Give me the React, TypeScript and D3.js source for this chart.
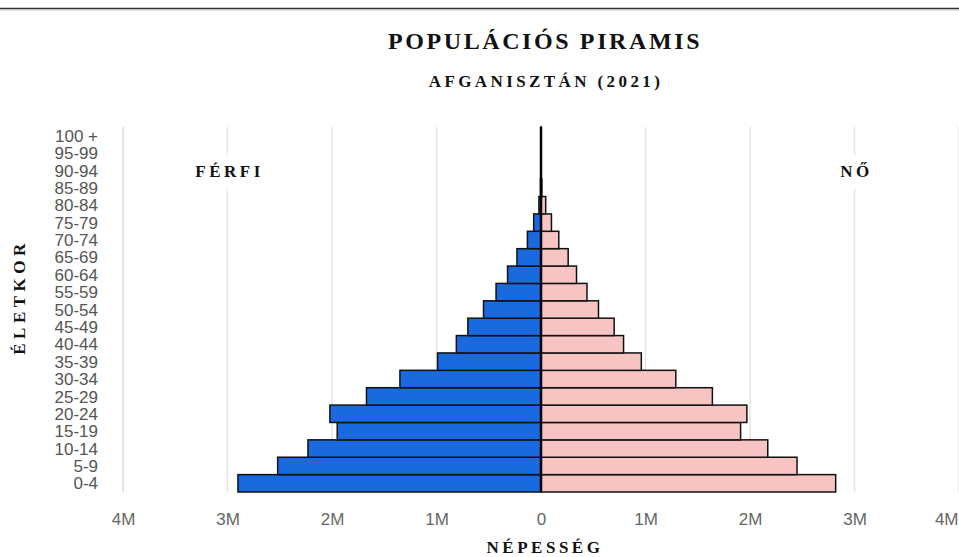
import React, { useEffect, useRef } from 'react';
import * as d3 from 'd3';

const ageGroups = [
  '0-4', '5-9', '10-14', '15-19', '20-24', '25-29', '30-34', '35-39', '40-44', '45-49',
  '50-54', '55-59', '60-64', '65-69', '70-74', '75-79', '80-84', '85-89', '90-94', '95-99', '100 +',
];

// population in people
const male = [
  2900000, 2520000, 2230000, 1950000, 2020000, 1670000, 1350000, 990000, 810000, 700000,
  550000, 430000, 320000, 230000, 130000, 70000, 20000, 5000, 1000, 200, 50,
];
const female = [
  2820000, 2450000, 2170000, 1910000, 1970000, 1640000, 1290000, 960000, 790000, 700000,
  550000, 440000, 340000, 260000, 170000, 100000, 45000, 8000, 1500, 300, 60,
];

const xTicks = [-4000000, -3000000, -2000000, -1000000, 0, 1000000, 2000000, 3000000, 4000000];

const serif = '"Liberation Serif", "Times New Roman", serif';
const sans = '"Liberation Sans", Arial, sans-serif';

const App = () => {
  const chartRef = useRef<HTMLDivElement>(null);

  useEffect(() => {
    const width = 959;
    const height = 557;
    const plot = { left: 123, right: 959, top: 127, bottom: 492 };

    d3.select(chartRef.current).selectAll('svg').remove();

    const svg = d3.select(chartRef.current)
      .append('svg')
      .attr('width', width)
      .attr('height', height)
      .style('position', 'absolute')
      .style('left', '0px')
      .style('top', '0px')
      .style('background', '#fff');

    // top border
    svg.append('line')
      .attr('x1', 0).attr('x2', width).attr('y1', 8.5).attr('y2', 8.5)
      .attr('stroke', '#333').attr('stroke-width', 1.6);
    svg.append('line')
      .attr('x1', 0).attr('x2', width).attr('y1', 9.9).attr('y2', 9.9)
      .attr('stroke', '#bbb').attr('stroke-width', 1);

    const x = d3.scaleLinear()
      .domain([-4000000, 4000000])
      .range([plot.left, plot.right]);

    const y = d3.scaleBand()
      .domain(ageGroups)
      .range([plot.bottom, plot.top])
      .padding(0);

    // grid
    svg.append('g')
      .selectAll('line')
      .data(xTicks)
      .join('line')
      .attr('x1', d => x(d))
      .attr('x2', d => x(d))
      .attr('y1', plot.top)
      .attr('y2', plot.bottom)
      .attr('stroke', d => (d === -4000000 ? '#d3dcea' : '#e6e6e6'))
      .attr('stroke-width', 1.5);

    // sex labels with white backing
    const sexLabels = [
      { text: 'FÉRFI', value: -3000000 },
      { text: 'NŐ', value: 3000000 },
    ];
    const sl = svg.append('g');
    sl.selectAll('rect')
      .data(sexLabels)
      .join('rect')
      .attr('x', d => x(d.value) - (d.text.length * 7 + 8))
      .attr('width', d => 2 * (d.text.length * 7 + 8))
      .attr('y', 155)
      .attr('height', 34)
      .attr('fill', '#fff');
    sl.selectAll('text')
      .data(sexLabels)
      .join('text')
      .attr('x', d => x(d.value) + 2)
      .attr('y', 177)
      .attr('text-anchor', 'middle')
      .style('font-family', serif)
      .style('font-weight', 'bold')
      .style('font-size', '17px')
      .style('letter-spacing', '3.5px')
      .attr('fill', '#111')
      .text(d => d.text);

    const rows = ageGroups.map((age, i) => ({ age, male: male[i], female: female[i] }));

    // male bars
    svg.append('g')
      .selectAll('rect')
      .data(rows)
      .join('rect')
      .attr('x', d => x(-d.male))
      .attr('y', d => y(d.age)!)
      .attr('width', d => x(0) - x(-d.male))
      .attr('height', y.bandwidth())
      .attr('fill', '#1a69df')
      .attr('stroke', '#111')
      .attr('stroke-width', 1.5);

    // female bars
    svg.append('g')
      .selectAll('rect')
      .data(rows)
      .join('rect')
      .attr('x', x(0))
      .attr('y', d => y(d.age)!)
      .attr('width', d => x(d.female) - x(0))
      .attr('height', y.bandwidth())
      .attr('fill', '#f8c3c3')
      .attr('stroke', '#111')
      .attr('stroke-width', 1.5);

    // zero line
    svg.append('line')
      .attr('x1', x(0)).attr('x2', x(0))
      .attr('y1', plot.top).attr('y2', plot.bottom)
      .attr('stroke', '#000')
      .attr('stroke-width', 2.5);

    // y axis labels
    const yAxis = svg.append('g')
      .attr('transform', `translate(${plot.left},0)`)
      .call(d3.axisLeft(y).tickSize(0).tickPadding(25));
    yAxis.select('.domain').remove();
    yAxis.selectAll('text')
      .style('font-family', sans)
      .style('font-size', '17px')
      .attr('fill', '#555')
      .attr('dy', '0.36em');

    // x axis labels
    const xAxis = svg.append('g')
      .attr('transform', `translate(0,${plot.bottom})`)
      .call(d3.axisBottom(x)
        .tickValues(xTicks)
        .tickSize(0)
        .tickPadding(21)
        .tickFormat(d => (+d === 0 ? '0' : `${Math.abs(+d) / 1000000}M`)));
    xAxis.select('.domain').remove();
    xAxis.selectAll('text')
      .style('font-family', sans)
      .style('font-size', '17px')
      .attr('fill', '#666')
      .attr('text-anchor', (d: any) => (d === 4000000 ? 'end' : 'middle'))
      .attr('dx', (d: any) => (d === 4000000 ? '-1' : '0'));

    // titles
    svg.append('text')
      .attr('x', 545)
      .attr('y', 49)
      .attr('text-anchor', 'middle')
      .style('font-family', serif)
      .style('font-weight', 'bold')
      .style('font-size', '24px')
      .style('letter-spacing', '2.6px')
      .attr('fill', '#111')
      .text('POPULÁCIÓS PIRAMIS');

    svg.append('text')
      .attr('x', 546)
      .attr('y', 87)
      .attr('text-anchor', 'middle')
      .style('font-family', serif)
      .style('font-weight', 'bold')
      .style('font-size', '17px')
      .style('letter-spacing', '3.4px')
      .attr('fill', '#111')
      .text('AFGANISZTÁN (2021)');

    svg.append('text')
      .attr('x', 545)
      .attr('y', 553)
      .attr('text-anchor', 'middle')
      .style('font-family', serif)
      .style('font-weight', 'bold')
      .style('font-size', '17px')
      .style('letter-spacing', '3.5px')
      .attr('fill', '#111')
      .text('NÉPESSÉG');

    svg.append('text')
      .attr('transform', 'translate(25,297) rotate(-90)')
      .attr('text-anchor', 'middle')
      .style('font-family', serif)
      .style('font-weight', 'bold')
      .style('font-size', '17px')
      .style('letter-spacing', '4.5px')
      .attr('fill', '#111')
      .text('ÉLETKOR');
  }, []);

  return <div ref={chartRef}></div>;
};

export default App;
